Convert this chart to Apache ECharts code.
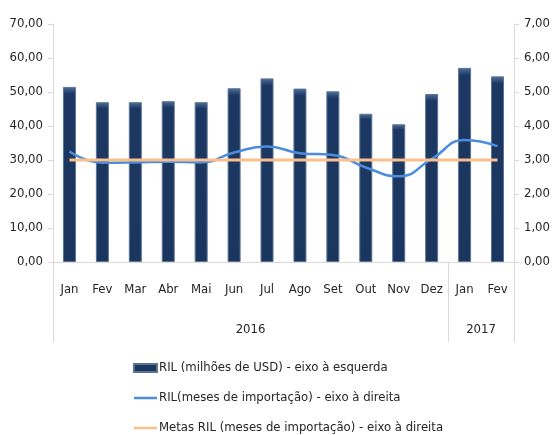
<!DOCTYPE html>
<html>
<head>
<meta charset="utf-8">
<script src="https://cdn.jsdelivr.net/npm/echarts@6/dist/echarts.min.js"></script>
<style>
  html, body { margin: 0; padding: 0; background: #fff; }
  #chart { width: 553px; height: 435px; }
</style>
</head>
<body>
<div id="chart"></div>
<script>
// meses e valores
const months = ["Jan", "Fev", "Mar", "Abr", "Mai", "Jun", "Jul", "Ago", "Set", "Out", "Nov", "Dez", "Jan", "Fev"];
const years = ["2016", "2017"];
const yearCenters = [6, 13];      // centro de cada grupo de anos (em nº de meses)
const yearBounds = [0, 12, 14];   // separadores entre os anos
const rilUsd = [51.5, 47.0, 47.0, 47.3, 47.0, 51.1, 54.0, 51.0, 50.2, 43.6, 40.5, 49.4, 57.1, 54.6];
const rilMeses = [3.25, 2.92, 2.93, 2.95, 2.93, 3.22, 3.40, 3.20, 3.15, 2.78, 2.52, 3.03, 3.59, 3.41];
const metas = [3, 3, 3, 3, 3, 3, 3, 3, 3, 3, 3, 3, 3, 3];

const FONT = "'DejaVu Sans Condensed', 'Liberation Sans Narrow', sans-serif";
const txt = "#262626";
const fmt = (v) => v.toFixed(2).replace(".", ",");
const lineIcon = "path://M0,0H23V2.5H0Z";

const chart = echarts.init(document.getElementById("chart"));

const option = {
  animation: false,
  textStyle: { fontFamily: FONT },
  grid: { left: 53, right: 37, top: 24, bottom: 173 },
  legend: {
    orient: "vertical",
    left: 133,
    top: 361,
    height: 100,
    padding: 0,
    itemWidth: 23,
    itemHeight: 8,
    itemGap: 16,
    symbolKeepAspect: true,
    textStyle: { fontFamily: FONT, fontSize: 13, lineHeight: 14, color: txt, padding: [0, 0, 0, -3] },
    data: [
      { name: "RIL (milhões de USD) - eixo à esquerda", icon: "rect" },
      { name: "RIL(meses de importação) - eixo à direita", icon: lineIcon },
      { name: "Metas RIL (meses de importação) - eixo à direita", icon: lineIcon }
    ]
  },
  xAxis: [
    {
      type: "category",
      data: months,
      axisLine: { lineStyle: { color: "#d9d9d9" } },
      axisTick: { length: 40, lineStyle: { color: "#d9d9d9" } },
      axisLabel: { fontFamily: FONT, fontSize: 13, color: txt, margin: 21 }
    },
    {
      type: "value",
      position: "bottom",
      min: 0,
      max: 14,
      axisLine: { show: false },
      axisTick: { show: true, length: 80, customValues: yearBounds, lineStyle: { color: "#d9d9d9" } },
      axisLabel: {
        fontFamily: FONT, fontSize: 13, color: txt, margin: 61,
        customValues: yearCenters,
        formatter: (v) => years[yearCenters.indexOf(v)] || ""
      },
      splitLine: { show: false }
    }
  ],
  yAxis: [
    {
      type: "value",
      min: 0, max: 70, interval: 10,
      axisLine: { show: true, lineStyle: { color: "#d9d9d9" } },
      axisTick: { show: true, length: 5, lineStyle: { color: "#d9d9d9" } },
      axisLabel: { fontFamily: FONT, fontSize: 13, color: txt, margin: 10, formatter: fmt },
      splitLine: { show: false }
    },
    {
      type: "value",
      min: 0, max: 7, interval: 1,
      axisLine: { show: true, lineStyle: { color: "#d9d9d9" } },
      axisTick: { show: true, length: 5, lineStyle: { color: "#d9d9d9" } },
      axisLabel: { fontFamily: FONT, fontSize: 13, color: txt, margin: 10, formatter: fmt },
      splitLine: { show: false }
    }
  ],
  series: [
    {
      name: "RIL (milhões de USD) - eixo à esquerda",
      type: "bar",
      barWidth: 13,
      data: rilUsd,
      itemStyle: {
        color: new echarts.graphic.LinearGradient(0, 0, 0, 1, [
          { offset: 0, color: "#4f6f9c" },
          { offset: 0.04, color: "#1c3862" },
          { offset: 1, color: "#1b365e" }
        ]),
        borderColor: "#5b7396",
        borderWidth: 1
      }
    },
    {
      name: "RIL(meses de importação) - eixo à direita",
      type: "line",
      yAxisIndex: 1,
      smooth: 0.5,
      symbol: "none",
      data: rilMeses,
      lineStyle: { color: "#4a8ddc", width: 2.5 },
      itemStyle: { color: "#4a8ddc" },
      z: 3
    },
    {
      name: "Metas RIL (meses de importação) - eixo à direita",
      type: "line",
      yAxisIndex: 1,
      symbol: "none",
      data: metas,
      lineStyle: { color: "#fbbf8e", width: 3 },
      itemStyle: { color: "#fbbf8e" },
      z: 4
    }
  ]
};

chart.setOption(option);
</script>
</body>
</html>
